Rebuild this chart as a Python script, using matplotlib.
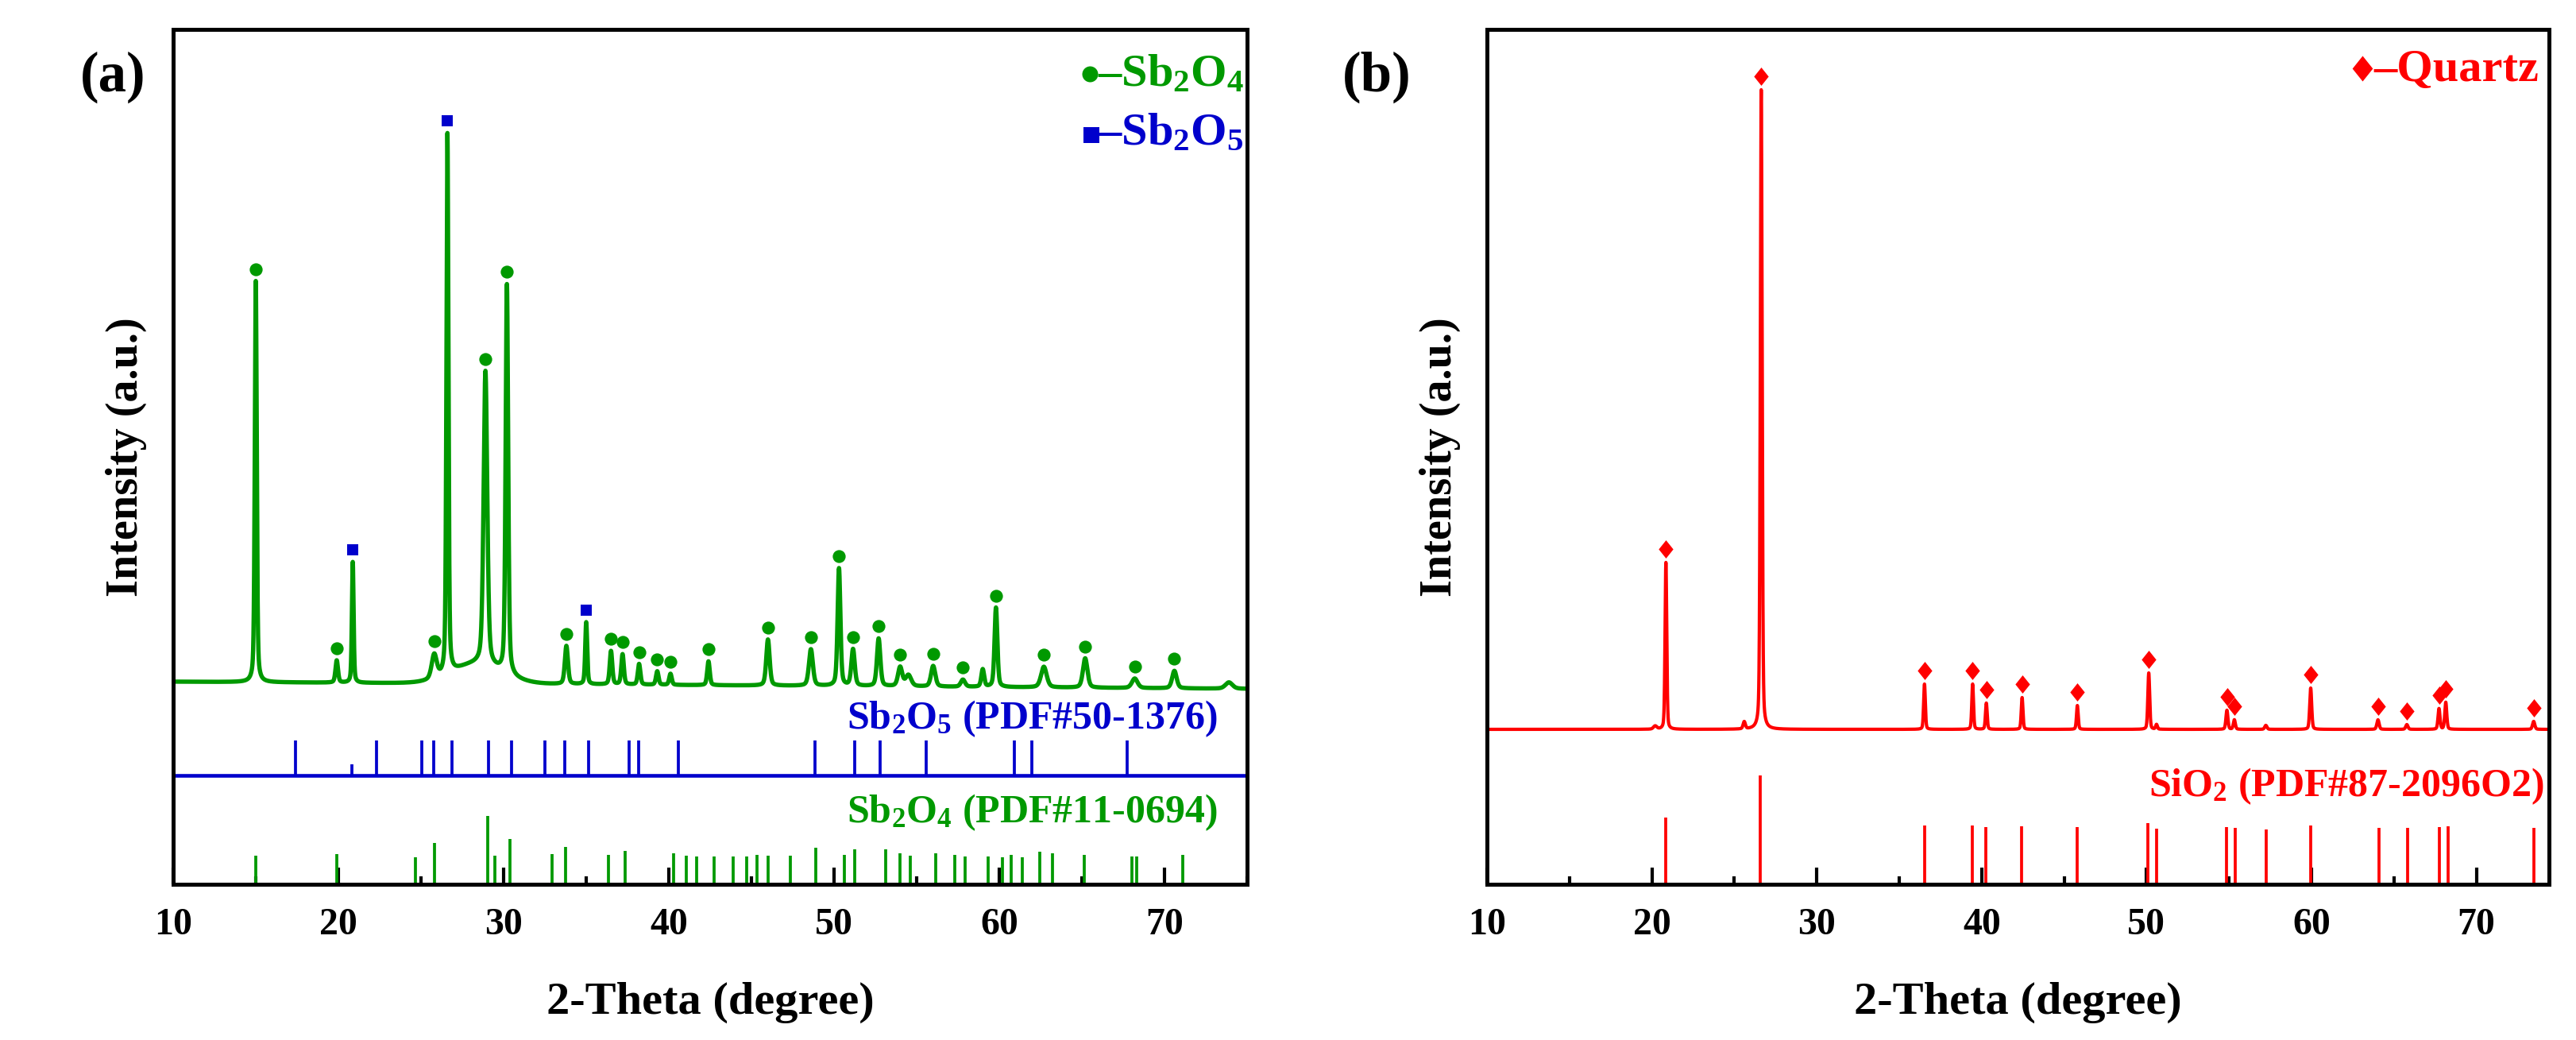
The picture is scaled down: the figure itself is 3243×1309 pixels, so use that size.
"""
XRD patterns: (a) Sb2O4 / Sb2O5 sample with reference sticks,
(b) quartz sample with SiO2 reference sticks.
"""
import numpy as np
import matplotlib.pyplot as plt
from matplotlib.ticker import MultipleLocator

plt.rcParams['font.family'] = ['Liberation Serif', 'DejaVu Serif']
plt.rcParams['font.weight'] = 'bold'
plt.rcParams['mathtext.fontset'] = 'custom'
plt.rcParams['mathtext.rm'] = 'Liberation Serif:bold'
plt.rcParams['mathtext.it'] = 'Liberation Serif:bold'
plt.rcParams['mathtext.bf'] = 'Liberation Serif:bold'
plt.rcParams['mathtext.default'] = 'rm'

GREEN = '#009900'
BLUE = '#0000CC'
RED = '#FF0000'

# ============================================================
# (a) measured pattern: peaks read off the picture
#     (2-theta, height above background, half width)
# ============================================================
A_PEAK_POS = [15.0, 19.9, 20.87, 25.8, 26.6, 28.9, 30.2, 33.8, 35.0, 36.5,
              37.2, 38.2, 39.3, 40.1, 42.4, 46.0, 48.6, 50.3, 51.15, 52.7,
              54.0, 54.5, 56.0, 57.8, 59.0, 59.8, 62.7, 65.2, 68.2, 70.6, 73.9]
A_PEAK_H = [505, 28, 152, 30, 680, 370, 490, 48, 78, 42,
            38, 26, 17, 14, 30, 58, 46, 148, 46, 60,
            24, 14, 26, 9, 22, 100, 26, 37, 12, 22, 8]
A_PEAK_W = [0.07, 0.09, 0.06, 0.18, 0.07, 0.13, 0.09, 0.11, 0.07, 0.09,
            0.09, 0.09, 0.09, 0.09, 0.09, 0.12, 0.14, 0.1, 0.12, 0.12,
            0.15, 0.2, 0.15, 0.15, 0.1, 0.1, 0.2, 0.16, 0.2, 0.16, 0.25]
A_ETA = 0.4                        # Lorentzian share of the peak shape
A_BACKGROUND = [255, 246]          # at 10 and 75 deg
A_HUMP = [28.4, 24, 1.5]           # amorphous hump: centre, height, sigma
A_CIRCLES = [15.0, 19.9, 25.8, 28.9, 30.2, 33.8, 36.5, 37.2, 38.2, 39.3,
             40.1, 42.4, 46.0, 48.6, 50.3, 51.15, 52.7, 54.0, 56.0, 57.8,
             59.8, 62.7, 65.2, 68.2, 70.6]
A_SQUARES = [20.87, 26.6, 35.0]

# Sb2O5 reference PDF#50-1376
SB2O5_POS = [17.41, 20.81, 22.29, 25.07, 25.78, 26.89, 29.08, 30.47, 32.48,
             33.72, 35.13, 37.58, 38.17, 40.57, 48.85, 51.24, 52.80, 55.57,
             60.93, 61.98, 67.74]
SB2O5_H = [44, 14, 44, 44, 44, 44, 44, 44, 44,
           44, 44, 44, 44, 44, 44, 44, 44, 44,
           44, 44, 44]
SB2O5_BASE = 137

# Sb2O4 reference PDF#11-0694
SB2O4_POS = [15.0, 19.92, 24.67, 25.82, 29.04, 29.45, 30.38, 32.94, 33.76,
             36.34, 37.36, 40.31, 41.07, 41.70, 42.74, 43.89, 44.70, 45.35,
             46.0, 47.37, 48.89, 50.63, 51.26, 53.13, 54.0, 54.61, 56.17,
             57.30, 57.91, 59.33, 60.2, 60.74, 61.39, 62.43, 63.24, 65.15,
             68.02, 68.30, 71.09]
SB2O4_H = [36, 38, 34, 52, 86, 36, 57, 38, 47,
           37, 42, 39, 36, 35, 35, 35, 35, 37,
           36, 36, 46, 37, 44, 44, 39, 36, 39,
           37, 35, 35, 34, 37, 34, 41, 39, 37,
           35, 35, 37]

# ============================================================
# (b) quartz pattern
# ============================================================
B_PEAK_POS = [20.2, 20.85, 25.6, 26.63, 36.53, 39.45, 40.28, 42.45, 45.8,
              50.13, 50.6, 54.87, 55.32, 57.23, 59.95, 64.03, 65.78, 67.73,
              68.14, 73.47]
B_PEAK_H = [4, 210, 9, 805, 57, 57, 33, 40, 30,
            71, 6, 24, 12, 5, 52, 12, 6, 26,
            34, 10]
B_PEAK_W = [0.12, 0.06, 0.08, 0.065, 0.06, 0.06, 0.06, 0.06, 0.06,
            0.065, 0.06, 0.07, 0.07, 0.08, 0.07, 0.08, 0.08, 0.07,
            0.07, 0.08]
B_ETA = 0.3
B_BACKGROUND = [195, 195]
B_DIAMONDS = [20.85, 26.63, 36.53, 39.45, 40.28, 42.45, 45.8, 50.13, 54.87,
              55.32, 59.95, 64.03, 65.78, 67.73, 68.14, 73.47]

# SiO2 reference PDF#87-2096
SIO2_POS = [20.83, 26.57, 36.52, 39.43, 40.26, 42.43, 45.78, 50.09, 50.61,
            54.83, 55.35, 57.26, 59.96, 64.09, 65.83, 67.74, 68.26, 73.48]
SIO2_H = [84, 137, 74, 74, 72, 73, 72, 77, 70,
          72, 71, 69, 74, 71, 71, 72, 73, 71]


def pattern(x, pos, h, w, eta, bg, hump=None):
    # pseudo-Voigt peaks on a sloping background
    y = np.interp(x, [10, 75], bg)
    for p, a, g in zip(pos, h, w):
        d = (x - p) / g
        y = y + a * (eta / (1.0 + d ** 2) + (1 - eta) * np.exp(-np.log(2) * d ** 2))
    if hump is not None:
        c, a, s = hump
        y = y + a * np.exp(-0.5 * ((x - c) / s) ** 2)
    return y


W, H = 3243, 1309
fig = plt.figure(figsize=(W / 300, H / 300), dpi=300)
ax_a = fig.add_axes([218 / W, (H - 1113) / H, 1352 / W, 1076 / H])
ax_b = fig.add_axes([1872 / W, (H - 1113) / H, 1337 / W, 1076 / H])

DIAMOND = [(0, 1), (0.8, 0), (0, -1), (-0.8, 0), (0, 1)]
x = np.arange(10, 75.0001, 0.005)

# ---------------- panel (a) ----------------
ax = ax_a
pa = (A_PEAK_POS, A_PEAK_H, A_PEAK_W, A_ETA, A_BACKGROUND, A_HUMP)
ax.plot(x, pattern(x, *pa), color=GREEN, lw=1.3)
xc = np.array(A_CIRCLES)
ax.plot(xc, pattern(xc, *pa) + 15, 'o', color=GREEN, ms=3.9, mew=0, zorder=3)
xs = np.array(A_SQUARES)
ax.plot(xs, pattern(xs, *pa) + 15, 's', color=BLUE, ms=3.4, mew=0, zorder=3)

ax.axhline(SB2O5_BASE, color=BLUE, lw=1.1)
ax.vlines(SB2O5_POS, SB2O5_BASE, SB2O5_BASE + np.array(SB2O5_H), color=BLUE, lw=0.9)
ax.vlines(SB2O4_POS, 0, SB2O4_H, color=GREEN, lw=0.9)

ax.text(73.2, 196, 'Sb$_2$O$_5$ (PDF#50-1376)', color=BLUE, fontsize=12,
        ha='right', va='baseline')
ax.text(73.2, 78, 'Sb$_2$O$_4$ (PDF#11-0694)', color=GREEN, fontsize=12,
        ha='right', va='baseline')

# legend
ax.plot([0.8536], [0.948], 'o', color=GREEN, ms=4.8, mew=0,
        transform=ax.transAxes, clip_on=False)
ax.text(0.997, 0.934, '\u2013Sb$_2$O$_4$', color=GREEN, fontsize=14,
        ha='right', va='baseline', transform=ax.transAxes)
ax.plot([0.855], [0.876], 's', color=BLUE, ms=4.8, mew=0,
        transform=ax.transAxes, clip_on=False)
ax.text(0.997, 0.865, '\u2013Sb$_2$O$_5$', color=BLUE, fontsize=14,
        ha='right', va='baseline', transform=ax.transAxes)
ax.set_xlim(10, 75)

# ---------------- panel (b) ----------------
ax = ax_b
pb = (B_PEAK_POS, B_PEAK_H, B_PEAK_W, B_ETA, B_BACKGROUND)
ax.plot(x, pattern(x, *pb), color=RED, lw=1.0)
xd = np.array(B_DIAMONDS)
ax.plot(xd, pattern(xd, *pb) + 17, marker=DIAMOND, ls='none', color=RED,
        ms=5.5, mew=0, zorder=3)
ax.vlines(SIO2_POS, 0, SIO2_H, color=RED, lw=0.9)
ax.text(74.1, 111, 'SiO$_2$ (PDF#87-2096O2)', color=RED, fontsize=12,
        ha='right', va='baseline')
ax.plot([0.8242], [0.9545], marker=DIAMOND, ls='none', color=RED, ms=7.7, mew=0,
        transform=ax.transAxes, clip_on=False)
ax.text(0.9903, 0.9396, '\u2013Quartz', color=RED, fontsize=14,
        ha='right', va='baseline', transform=ax.transAxes)
ax.set_xlim(10, 74.4)

for ax in (ax_a, ax_b):
    ax.set_ylim(0, 1076)
    ax.set_yticks([])
    ax.xaxis.set_major_locator(MultipleLocator(10))
    ax.xaxis.set_minor_locator(MultipleLocator(5))
    ax.tick_params(axis='x', which='major', direction='in', length=5, width=1,
                   pad=7, labelsize=11.5)
    ax.tick_params(axis='x', which='minor', direction='in', length=2.5, width=1)
    for sp in ax.spines.values():
        sp.set_linewidth(1.2)
    ax.set_xlabel('2-Theta (degree)', fontsize=14, fontweight='bold', labelpad=12)
    ax.set_ylabel('Intensity (a.u.)', fontsize=13.5, fontweight='bold', labelpad=8)

fig.text(142 / W, 1 - 97 / H, '(a)', fontsize=17, fontweight='bold',
         ha='center', va='center')
fig.text(1733 / W, 1 - 97 / H, '(b)', fontsize=17, fontweight='bold',
         ha='center', va='center')

fig.savefig('out.png', dpi=300)
